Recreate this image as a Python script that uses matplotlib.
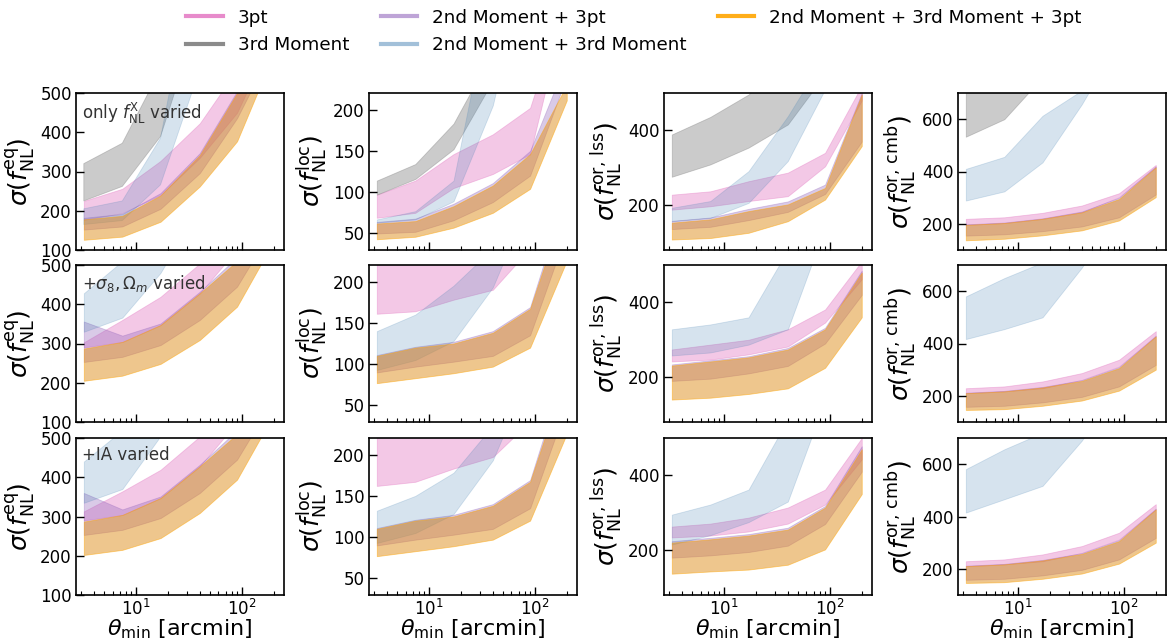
import matplotlib
matplotlib.use("Agg")
import matplotlib.pyplot as plt
from matplotlib.lines import Line2D

# minimum angular scale of each analysis [arcmin]
theta_min = [3.2, 7.4, 17, 40, 90, 200]

labels = ["3pt", "3rd Moment", "2nd Moment + 3pt", "2nd Moment + 3rd Moment",
          "2nd Moment + 3rd Moment + 3pt"]
fill_colors = ["tab:pink", "tab:gray", "tab:purple", "steelblue", "#df8e1c"]
fill_alphas = [0.4, 0.4, 0.35, 0.22, 0.5]
line_colors = ["tab:pink", "tab:gray", "tab:purple", "steelblue", "orange"]
line_alphas = [0.85, 0.9, 0.6, 0.5, 0.9]

# (lower, upper) envelope of sigma(f_NL) for each probe combination
# --- only f_NL^X varied ---
eq_fnl = {
    "3pt": ([177, 194, 240, 335, 450, 650], [225, 256, 327, 423, 560, 800]),
    "3rd Moment": ([225, 262, 389, 700, 1200, 2000], [320, 372, 560, 1000, 1800, 3000]),
    "2nd Moment + 3pt": ([152, 160, 205, 296, 436, 620], [182, 192, 245, 347, 505, 720]),
    "2nd Moment + 3rd Moment": ([165, 175, 266, 560, 1000, 1500], [205, 225, 385, 900, 1500, 2500]),
    "2nd Moment + 3rd Moment + 3pt": ([126, 134, 172, 262, 377, 600], [178, 187, 239, 342, 500, 700]),
}
loc_fnl = {
    "3pt": ([69, 75, 105, 122, 146, 330], [97, 114, 146, 170, 202, 340]),
    "3rd Moment": ([97, 116, 152, 235, 350, 500], [114, 134, 183, 270, 400, 600]),
    "2nd Moment + 3pt": ([50, 52, 66, 88, 120, 240], [64, 68, 86, 111, 150, 260]),
    "2nd Moment + 3rd Moment": ([63, 67, 89, 205, 400, 600], [67, 77, 114, 350, 500, 800]),
    "2nd Moment + 3rd Moment + 3pt": ([43, 46, 57, 75, 104, 211], [62, 65, 83, 108, 146, 230]),
}
lss_fnl = {
    "3pt": ([188, 197, 211, 224, 304, 480], [228, 237, 264, 287, 340, 520]),
    "3rd Moment": ([276, 309, 354, 416, 550, 700], [389, 436, 496, 600, 800, 1000]),
    "2nd Moment + 3pt": ([136, 142, 160, 182, 230, 370], [158, 167, 190, 210, 255, 500]),
    "2nd Moment + 3rd Moment": ([157, 166, 206, 318, 510, 700], [193, 211, 291, 438, 600, 900]),
    "2nd Moment + 3rd Moment + 3pt": ([108, 112, 126, 157, 215, 358], [153, 162, 184, 202, 246, 496]),
}
cmb_fnl = {
    "3pt": ([196, 203, 219, 244, 302, 416], [219, 225, 242, 270, 317, 425]),
    "3rd Moment": ([533, 600, 760, 900, 1100, 1300], [750, 820, 950, 1100, 1300, 1600]),
    "2nd Moment + 3pt": ([155, 160, 172, 190, 225, 312], [198, 205, 221, 247, 300, 420]),
    "2nd Moment + 3rd Moment": ([289, 324, 435, 657, 900, 1200], [410, 456, 613, 710, 1000, 1400]),
    "2nd Moment + 3rd Moment + 3pt": ([137, 143, 156, 175, 213, 302], [196, 203, 219, 244, 295, 416]),
}

# --- + sigma_8, Omega_m varied ---
eq_cosmo = {
    "3pt": ([290, 304, 347, 428, 540, 700], [303, 360, 419, 504, 600, 800]),
    "3rd Moment": ([600, 700, 900, 1200, 1500, 2000], [900, 1000, 1300, 1600, 2000, 2600]),
    "2nd Moment + 3pt": ([253, 266, 296, 360, 445, 600], [356, 320, 351, 432, 520, 700]),
    "2nd Moment + 3rd Moment": ([330, 366, 480, 650, 900, 1200], [428, 510, 600, 800, 1100, 1500]),
    "2nd Moment + 3rd Moment + 3pt": ([205, 218, 248, 309, 394, 560], [287, 304, 347, 428, 510, 650]),
}
loc_cosmo = {
    "3pt": ([161, 164, 178, 190, 240, 300], [250, 260, 280, 320, 400, 500]),
    "3rd Moment": ([300, 350, 420, 500, 600, 700], [400, 450, 520, 600, 700, 800]),
    "2nd Moment + 3pt": ([90, 97, 103, 110, 135, 260], [111, 121, 127, 140, 169, 310]),
    "2nd Moment + 3rd Moment": ([93, 105, 128, 193, 300, 400], [140, 160, 195, 240, 350, 500]),
    "2nd Moment + 3rd Moment + 3pt": ([77, 83, 89, 97, 120, 225], [110, 120, 125, 138, 167, 300]),
}
lss_cosmo = {
    "3pt": ([242, 247, 261, 282, 346, 462], [274, 287, 300, 328, 381, 510]),
    "3rd Moment": ([600, 700, 800, 900, 1000, 1200], [800, 900, 1000, 1100, 1300, 1500]),
    "2nd Moment + 3pt": ([190, 196, 210, 230, 290, 420], [234, 245, 256, 278, 332, 485]),
    "2nd Moment + 3rd Moment": ([258, 266, 287, 328, 600, 800], [328, 341, 360, 540, 800, 1000]),
    "2nd Moment + 3rd Moment + 3pt": ([140, 145, 155, 170, 225, 360], [231, 242, 253, 274, 328, 480]),
}
cmb_cosmo = {
    "3pt": ([210, 217, 229, 261, 312, 427], [229, 236, 255, 287, 338, 447]),
    "3rd Moment": ([900, 1000, 1100, 1300, 1500, 1800], [1200, 1300, 1500, 1700, 2000, 2400]),
    "2nd Moment + 3pt": ([158, 162, 175, 196, 236, 318], [212, 219, 234, 260, 310, 430]),
    "2nd Moment + 3rd Moment": ([417, 455, 500, 690, 900, 1200], [580, 650, 710, 800, 1000, 1400]),
    "2nd Moment + 3rd Moment + 3pt": ([146, 149, 162, 182, 220, 300], [210, 217, 232, 257, 306, 427]),
}

# --- + IA varied ---
eq_ia = {
    "3pt": ([290, 304, 347, 428, 540, 700], [313, 364, 419, 504, 600, 800]),
    "3rd Moment": ([600, 700, 900, 1200, 1500, 2000], [900, 1000, 1300, 1600, 2000, 2600]),
    "2nd Moment + 3pt": ([253, 266, 296, 360, 445, 600], [360, 318, 351, 432, 520, 700]),
    "2nd Moment + 3rd Moment": ([335, 370, 505, 650, 900, 1200], [440, 520, 650, 800, 1100, 1500]),
    "2nd Moment + 3rd Moment + 3pt": ([202, 215, 245, 309, 394, 560], [287, 304, 347, 428, 510, 650]),
}
loc_ia = {
    "3pt": ([162, 167, 183, 197, 240, 300], [250, 260, 280, 320, 400, 500]),
    "3rd Moment": ([300, 350, 420, 500, 600, 700], [400, 450, 520, 600, 700, 800]),
    "2nd Moment + 3pt": ([90, 97, 103, 110, 135, 260], [111, 121, 127, 140, 169, 310]),
    "2nd Moment + 3rd Moment": ([93, 105, 128, 193, 300, 400], [132, 150, 178, 235, 350, 500]),
    "2nd Moment + 3rd Moment + 3pt": ([77, 83, 89, 97, 120, 225], [110, 120, 125, 138, 167, 300]),
}
lss_ia = {
    "3pt": ([234, 239, 250, 271, 322, 443], [263, 271, 287, 314, 362, 500]),
    "3rd Moment": ([600, 700, 800, 900, 1000, 1200], [800, 900, 1000, 1100, 1300, 1500]),
    "2nd Moment + 3pt": ([180, 186, 195, 212, 270, 410], [224, 233, 243, 260, 318, 478]),
    "2nd Moment + 3rd Moment": ([215, 240, 275, 330, 600, 800], [295, 322, 362, 550, 800, 1000]),
    "2nd Moment + 3rd Moment + 3pt": ([137, 143, 148, 161, 202, 350], [220, 229, 239, 255, 314, 470]),
}
cmb_ia = {
    "3pt": ([210, 217, 229, 261, 312, 427], [229, 236, 255, 287, 338, 447]),
    "3rd Moment": ([900, 1000, 1100, 1300, 1500, 1800], [1200, 1300, 1500, 1700, 2000, 2400]),
    "2nd Moment + 3pt": ([158, 162, 175, 196, 236, 318], [212, 219, 234, 260, 310, 430]),
    "2nd Moment + 3rd Moment": ([415, 466, 517, 690, 900, 1200], [581, 657, 720, 800, 1000, 1400]),
    "2nd Moment + 3rd Moment + 3pt": ([146, 149, 162, 182, 220, 300], [210, 217, 232, 257, 306, 427]),
}

panels = [[eq_fnl, loc_fnl, lss_fnl, cmb_fnl],
          [eq_cosmo, loc_cosmo, lss_cosmo, cmb_cosmo],
          [eq_ia, loc_ia, lss_ia, cmb_ia]]
row_notes = [r"only $f_{\rm NL}^{\rm X}$ varied", r"$+\sigma_8, \Omega_m$ varied", "+IA varied"]
ylabels = [r"$\sigma(f_{\rm NL}^{\rm eq})$", r"$\sigma(f_{\rm NL}^{\rm loc})$",
           r"$\sigma(f_{\rm NL}^{\rm or,\, lss})$", r"$\sigma(f_{\rm NL}^{\rm or,\, cmb})$"]
ylims = [(100, 500), (30, 220), (80, 500), (100, 700)]
yticks = [[100, 200, 300, 400, 500], [50, 100, 150, 200], [200, 400], [200, 400, 600]]

W, H = 1167, 644
fig = plt.figure(figsize=(W / 100, H / 100), dpi=100)

col_left = [76, 369, 664, 958]
row_top = [93, 265, 438]
ax_w, ax_h = 208, 157

for i in range(3):
    for j in range(4):
        ax = fig.add_axes([col_left[j] / W, 1 - (row_top[i] + ax_h) / H, ax_w / W, ax_h / H])
        data = panels[i][j]
        for lab, fc, a, ec in zip(labels, fill_colors, fill_alphas, line_colors):
            lo, hi = data[lab]
            ax.fill_between(theta_min, lo, hi, facecolor=fc, edgecolor=ec, alpha=a, lw=0.6)
        ax.set_xscale("log")
        ax.set_xlim(2.7, 250)
        ax.set_ylim(*ylims[j])
        ax.set_yticks(yticks[j])
        ax.tick_params(which="major", direction="in", length=6, width=1, labelsize=12, pad=3)
        ax.tick_params(which="minor", direction="in", length=3, width=0.8)
        ax.tick_params(axis="y", which="minor", left=False)
        ax.set_ylabel(ylabels[j], fontsize=18, labelpad=2)
        for s in ax.spines.values():
            s.set_linewidth(1.2)
        if i < 2:
            ax.tick_params(axis="x", which="both", labelbottom=False)
        else:
            ax.set_xlabel(r"$\theta_{\rm min}$ [arcmin]", fontsize=16, labelpad=-1)
        if j == 0:
            ax.text(0.03, 0.95, row_notes[i], transform=ax.transAxes, fontsize=12,
                    color="#333333", va="top", ha="left")

handles = [Line2D([], [], color=c, lw=3, alpha=a) for c, a in zip(line_colors, line_alphas)]
fig.legend(handles, labels, loc="upper left", bbox_to_anchor=(170 / W, 1.012), ncol=3,
           frameon=False, fontsize=13.2, columnspacing=1.7, handlelength=2.0)

fig.savefig("out.png", dpi=100)
